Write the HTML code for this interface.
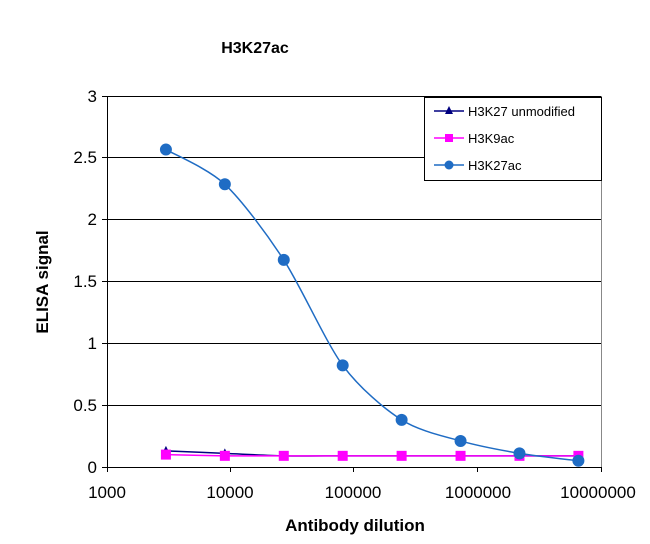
<!DOCTYPE html>
<html><head><meta charset="utf-8"><style>
body{margin:0;background:#fff}
svg{display:block;font-family:"Liberation Sans",Arial,sans-serif}
</style></head><body>
<svg id="s" width="650" height="544" viewBox="0 0 650 544">
<text x="255" y="53" font-size="16" font-weight="bold" text-anchor="middle">H3K27ac</text>
<g stroke="#000" stroke-width="1">
<line x1="107" y1="96.5" x2="601" y2="96.5"/>
<line x1="107" y1="157.5" x2="601" y2="157.5"/>
<line x1="107" y1="219.5" x2="601" y2="219.5"/>
<line x1="107" y1="281.5" x2="601" y2="281.5"/>
<line x1="107" y1="343.5" x2="601" y2="343.5"/>
<line x1="107" y1="405.5" x2="601" y2="405.5"/>
</g>
<g stroke="#888" stroke-width="1">
<line x1="601.5" y1="96" x2="601.5" y2="467"/>
</g>
<g stroke="#000" stroke-width="1">
<line x1="107.5" y1="96" x2="107.5" y2="472"/>
<line x1="102" y1="467.5" x2="601" y2="467.5"/>
<line x1="102" y1="96.5" x2="107" y2="96.5"/><line x1="102" y1="157.5" x2="107" y2="157.5"/><line x1="102" y1="219.5" x2="107" y2="219.5"/><line x1="102" y1="281.5" x2="107" y2="281.5"/><line x1="102" y1="343.5" x2="107" y2="343.5"/><line x1="102" y1="405.5" x2="107" y2="405.5"/>
<line x1="230.5" y1="467" x2="230.5" y2="472"/><line x1="353.5" y1="467" x2="353.5" y2="472"/><line x1="477.5" y1="467" x2="477.5" y2="472"/><line x1="601.5" y1="467" x2="601.5" y2="472"/>
</g>
<g font-size="17" text-anchor="end">
<text x="97" y="102">3</text><text x="97" y="163">2.5</text><text x="97" y="225">2</text><text x="97" y="287">1.5</text><text x="97" y="349">1</text><text x="97" y="411">0.5</text><text x="97" y="473">0</text>
</g>
<g font-size="17" text-anchor="middle">
<text x="107" y="498">1000</text><text x="230" y="498">10000</text><text x="353" y="498">100000</text><text x="478" y="498">1000000</text><text x="598" y="498">10000000</text>
</g>
<text x="355" y="531" font-size="17" font-weight="bold" text-anchor="middle">Antibody dilution</text>
<text transform="translate(48,282) rotate(-90)" font-size="17" font-weight="bold" text-anchor="middle">ELISA signal</text>
<g id="data"></g>
<rect x="424.5" y="97.5" width="177" height="83" fill="#fff" stroke="#000"/>
<line x1="434" y1="111" x2="464" y2="111" stroke="#000080" stroke-width="1.5"/>
<polygon points="449,106 453,114 445,114" fill="#000080"/>
<text x="468" y="116" font-size="13">H3K27 unmodified</text>
<line x1="434" y1="138" x2="464" y2="138" stroke="#ff00ff" stroke-width="1.5"/>
<rect x="445" y="134" width="8" height="8" fill="#ff00ff"/>
<text x="468" y="143" font-size="13">H3K9ac</text>
<line x1="434" y1="165" x2="464" y2="165" stroke="#1f6cc4" stroke-width="1.5"/>
<circle cx="449" cy="165" r="4.5" fill="#1f6cc4"/>
<text x="468" y="170" font-size="13">H3K27ac</text>
</svg>
<script>
var X=function(d){return 107+123.5*(Math.log10(d)-3)},Y=function(v){return 467-124*v};
var dil=[3000,9000,27000,81000,243000,729000,2187000,6561000];
var ac=[2.56,2.28,1.67,0.82,0.38,0.21,0.11,0.05];
var k9=[0.1,0.09,0.09,0.09,0.09,0.09,0.09,0.09];
var un=[0.13,0.11,0.09,0.09,0.09,0.09,0.09,0.09];
function pts(a){return dil.map(function(d,i){return [X(d),Y(a[i])]})}
function spline(p){var s="M"+p[0][0]+","+p[0][1];for(var i=0;i<p.length-1;i++){var p0=p[i-1]||p[i],p1=p[i],p2=p[i+1],p3=p[i+2]||p2;var t=1/7;s+=" C"+(p1[0]+(p2[0]-p0[0])*t)+","+(p1[1]+(p2[1]-p0[1])*t)+" "+(p2[0]-(p3[0]-p1[0])*t)+","+(p2[1]-(p3[1]-p1[1])*t)+" "+p2[0]+","+p2[1];}return s}
var g=document.getElementById("data"),h="";
var pu=pts(un),pk=pts(k9),pa=pts(ac);
h+='<path d="'+spline(pu)+'" fill="none" stroke="#000080" stroke-width="1.5"/>';
pu.forEach(function(p){h+='<polygon points="'+p[0]+','+(p[1]-5)+' '+(p[0]+4)+','+(p[1]+3)+' '+(p[0]-4)+','+(p[1]+3)+'" fill="#000080"/>'});
h+='<path d="'+spline(pk)+'" fill="none" stroke="#ff00ff" stroke-width="1.5"/>';
h+='<path d="'+spline(pa)+'" fill="none" stroke="#1f6cc4" stroke-width="1.5"/>';
pk.forEach(function(p){h+='<rect x="'+(p[0]-5)+'" y="'+(p[1]-5)+'" width="10" height="10" fill="#ff00ff"/>'});
pa.forEach(function(p){h+='<circle cx="'+p[0]+'" cy="'+p[1]+'" r="6" fill="#1f6cc4"/>'});
g.innerHTML=h;
</script>
</body></html>
